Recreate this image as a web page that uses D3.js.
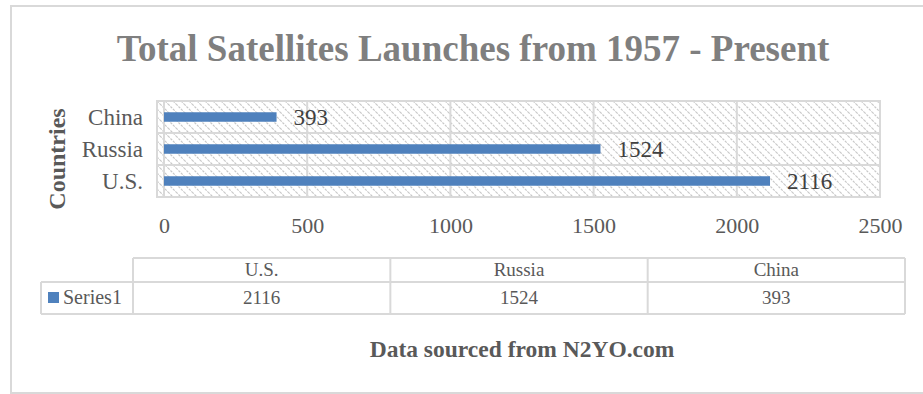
<!DOCTYPE html>
<html><head><meta charset="utf-8">
<script src="https://cdn.jsdelivr.net/npm/d3@7"></script>
<style>
html,body{margin:0;padding:0;background:#fff;}
svg{display:block;}
svg text{font-family:"Liberation Serif","Times New Roman",serif;}
</style></head>
<body>
<svg id="c" width="923" height="394"></svg>
<script>
const categories = ["U.S.", "Russia", "China"];
const seriesName = "Series1";
const values = [2116, 1524, 393];
const ticks = [0, 500, 1000, 1500, 2000, 2500];
const title = "Total Satellites Launches from 1957 - Present";
const yTitle = "Countries";
const footer = "Data sourced from N2YO.com";

const svg = d3.select("#c");
const grid = "#d9d9d9";
const textCol = "#595959";
const barCol = "#4f81bd";

// outer chart border
svg.append("rect").attr("x", 11).attr("y", 6).attr("width", 940).attr("height", 387)
  .attr("fill", "#fff").attr("stroke", grid).attr("stroke-width", 2);

// hatch pattern
const defs = svg.append("defs");
const P = 8;
const pat = defs.append("pattern").attr("id", "hatch").attr("patternUnits", "userSpaceOnUse")
  .attr("width", P).attr("height", P);
pat.append("rect").attr("width", P).attr("height", P).attr("fill", "#fff");
pat.append("path").attr("d", `M0,0 L${P},${P} M${-P/2},${P/2} L${P/2},${P*1.5} M${P/2},${-P/2} L${P*1.5},${P/2}`)
  .attr("stroke", "#c8c8c8").attr("stroke-width", 1.2).attr("stroke-dasharray", "2.4,1.1");

// title
svg.append("text").attr("x", 473).attr("y", 61).attr("text-anchor", "middle")
  .attr("font-size", 37).attr("font-weight", "bold").attr("fill", "#7f7f7f").text(title);

// plot area
const plotL = 157, plotR = 880, plotT = 101, plotB = 197;
const x = d3.scaleLinear().domain([0, 2500]).range([164, 880]);
const order = categories.slice().reverse(); // China at top
const y = d3.scaleBand().domain(order).range([plotT, plotB]);

svg.append("rect").attr("x", plotL).attr("y", plotT).attr("width", plotR - plotL).attr("height", plotB - plotT)
  .attr("fill", "url(#hatch)").attr("stroke", grid).attr("stroke-width", 2);

// horizontal band lines
svg.append("g").selectAll("line").data(order.slice(1)).join("line")
  .attr("x1", plotL).attr("x2", plotR)
  .attr("y1", d => y(d)).attr("y2", d => y(d))
  .attr("stroke", grid).attr("stroke-width", 2);

// vertical gridlines
svg.append("g").selectAll("line").data(ticks.slice(0, -1)).join("line")
  .attr("x1", d => x(d)).attr("x2", d => x(d))
  .attr("y1", plotT).attr("y2", plotB)
  .attr("stroke", grid).attr("stroke-width", 2);

// bars
const barH = 9.5;
svg.append("g").selectAll("rect").data(categories).join("rect")
  .attr("x", x(0)).attr("y", d => y(d) + y.bandwidth() / 2 - barH / 2)
  .attr("width", (d, i) => x(values[i]) - x(0)).attr("height", barH)
  .attr("fill", barCol);

// value labels
svg.append("g").selectAll("text").data(categories).join("text")
  .attr("x", (d, i) => x(values[i]) + 17).attr("y", d => y(d) + y.bandwidth() / 2 + 8)
  .attr("font-size", 23).attr("fill", "#404040").text((d, i) => values[i]);

// category axis labels
svg.append("g").selectAll("text").data(categories).join("text")
  .attr("x", 143).attr("y", d => y(d) + y.bandwidth() / 2 + 7.5)
  .attr("text-anchor", "end").attr("font-size", 23).attr("fill", textCol).text(d => d);

// y title
svg.append("text").attr("transform", "translate(65,159) rotate(-90)")
  .attr("text-anchor", "middle").attr("font-size", 24).attr("font-weight", "bold")
  .attr("fill", textCol).text(yTitle);

// x tick labels via axis
const xAxis = d3.axisBottom(x).tickValues(ticks).tickSize(0).tickPadding(0).tickFormat(d3.format("d"));
const gx = svg.append("g").attr("transform", "translate(0,217)").call(xAxis);
gx.select(".domain").remove();
gx.selectAll("text").attr("font-size", 22).attr("fill", textCol)
  .attr("font-family", "Liberation Serif").attr("dy", "0.71em");

// data table
const tL = 133, tR = 905, r0 = 258, r1 = 282, r2 = 314, legL = 41;
const col = d3.scaleBand().domain(categories).range([tL, tR]);
const tbl = svg.append("g").attr("stroke", grid).attr("stroke-width", 2).attr("fill", "none");
tbl.append("line").attr("x1", tL).attr("x2", tR).attr("y1", r0).attr("y2", r0);
tbl.append("line").attr("x1", legL).attr("x2", tR).attr("y1", r1).attr("y2", r1);
tbl.append("line").attr("x1", legL).attr("x2", tR).attr("y1", r2).attr("y2", r2);
tbl.append("line").attr("x1", legL).attr("x2", legL).attr("y1", r1).attr("y2", r2);
tbl.selectAll(".v").data(categories).join("line").attr("class", "v")
  .attr("x1", d => col(d)).attr("x2", d => col(d)).attr("y1", r0).attr("y2", r2);
tbl.append("line").attr("x1", tR).attr("x2", tR).attr("y1", r0).attr("y2", r2);

svg.append("g").selectAll("text").data(categories).join("text")
  .attr("x", d => col(d) + col.bandwidth() / 2).attr("y", r0 + 18)
  .attr("text-anchor", "middle").attr("font-size", 19).attr("fill", textCol).text(d => d);
svg.append("g").selectAll("text").data(categories).join("text")
  .attr("x", d => col(d) + col.bandwidth() / 2).attr("y", r1 + 22)
  .attr("text-anchor", "middle").attr("font-size", 19).attr("fill", textCol).text((d, i) => values[i]);

// legend key
svg.append("rect").attr("x", 48).attr("y", 292).attr("width", 11).attr("height", 11).attr("fill", barCol);
svg.append("text").attr("x", 63).attr("y", 304).attr("font-size", 20).attr("fill", textCol).text(seriesName);

// footer
svg.append("text").attr("x", 522).attr("y", 357).attr("text-anchor", "middle")
  .attr("font-size", 23.5).attr("font-weight", "bold").attr("fill", textCol).text(footer);
</script>
</body></html>
